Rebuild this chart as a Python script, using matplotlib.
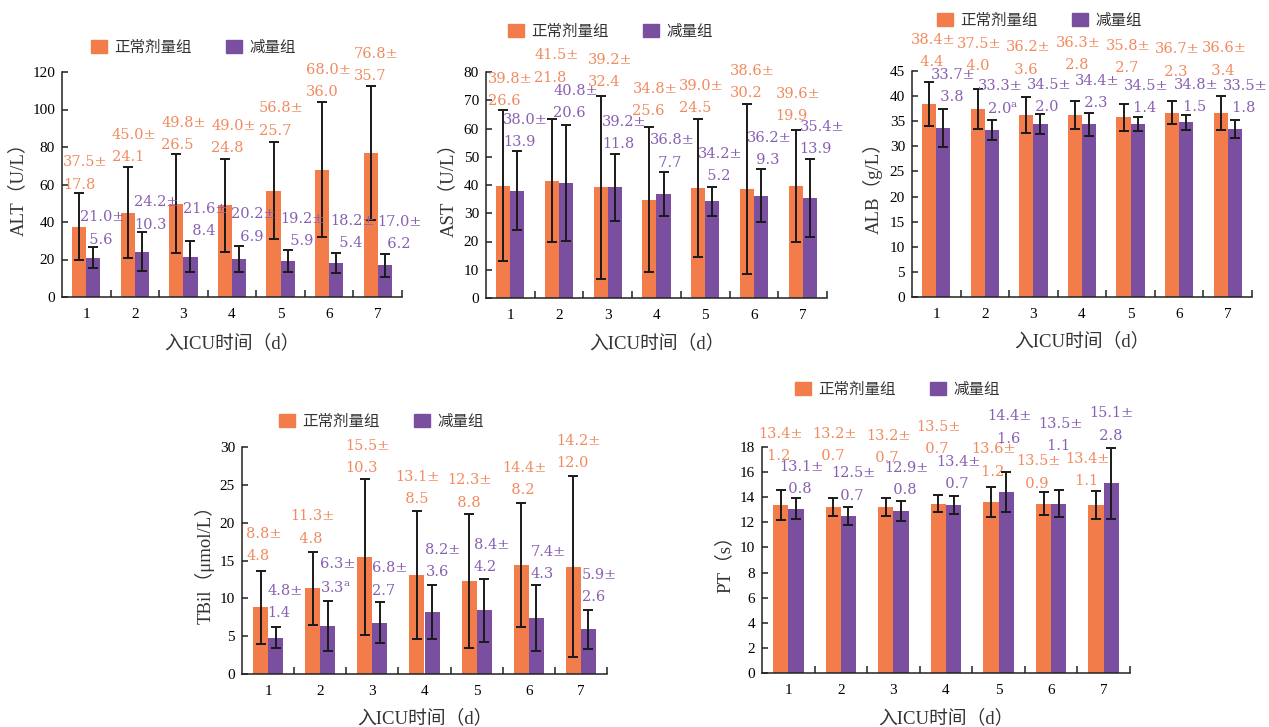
#!/usr/bin/env python3
"""Liver function / coagulation indexes by ICU day, normal vs reduced dose (5 panels)."""
import numpy as np
import matplotlib
matplotlib.use("Agg")
import matplotlib.pyplot as plt
from matplotlib.patches import Patch
from matplotlib.ticker import FixedLocator, MultipleLocator

plt.rcParams["font.family"] = ["Liberation Serif", "Noto Sans CJK SC"]
plt.rcParams["mathtext.fontset"] = "dejavuserif"

days = ["1", "2", "3", "4", "5", "6", "7"]
group_names = ["正常剂量组", "减量组"]
xlabel_text = "入ICU时间（d）"

alt_normal_mean = [37.5, 45.0, 49.8, 49.0, 56.8, 68.0, 76.8]
alt_normal_sd = [17.8, 24.1, 26.5, 24.8, 25.7, 36.0, 35.7]
alt_reduced_mean = [21.0, 24.2, 21.6, 20.2, 19.2, 18.2, 17.0]
alt_reduced_sd = [5.6, 10.3, 8.4, 6.9, 5.9, 5.4, 6.2]

ast_normal_mean = [39.8, 41.5, 39.2, 34.8, 39.0, 38.6, 39.6]
ast_normal_sd = [26.6, 21.8, 32.4, 25.6, 24.5, 30.2, 19.9]
ast_reduced_mean = [38.0, 40.8, 39.2, 36.8, 34.2, 36.2, 35.4]
ast_reduced_sd = [13.9, 20.6, 11.8, 7.7, 5.2, 9.3, 13.9]

alb_normal_mean = [38.4, 37.5, 36.2, 36.3, 35.8, 36.7, 36.6]
alb_normal_sd = [4.4, 4.0, 3.6, 2.8, 2.7, 2.3, 3.4]
alb_reduced_mean = [33.7, 33.3, 34.5, 34.4, 34.5, 34.8, 33.5]
alb_reduced_sd = [3.8, 2.0, 2.0, 2.3, 1.4, 1.5, 1.8]
alb_reduced_mark = ["", "a", "", "", "", "", ""]

tbil_normal_mean = [8.8, 11.3, 15.5, 13.1, 12.3, 14.4, 14.2]
tbil_normal_sd = [4.8, 4.8, 10.3, 8.5, 8.8, 8.2, 12.0]
tbil_reduced_mean = [4.8, 6.3, 6.8, 8.2, 8.4, 7.4, 5.9]
tbil_reduced_sd = [1.4, 3.3, 2.7, 3.6, 4.2, 4.3, 2.6]
tbil_reduced_mark = ["", "a", "", "", "", "", ""]

pt_normal_mean = [13.4, 13.2, 13.2, 13.5, 13.6, 13.5, 13.4]
pt_normal_sd = [1.2, 0.7, 0.7, 0.7, 1.2, 0.9, 1.1]
pt_reduced_mean = [13.1, 12.5, 12.9, 13.4, 14.4, 13.5, 15.1]
pt_reduced_sd = [0.8, 0.7, 0.8, 0.7, 1.6, 1.1, 2.8]

no_mark = [""] * 7

# label placement: left edge offset from category centre (px), gap above error cap (px)
alt_lab = dict(n_dx=[-23, -23, -22, -21, -22, -23, -24], n_gap=[5, 7, 5, 7, 8, 6, 6],
               r_dx=[-6, -1, 0, -1, 0, 1, 0], r_gap=[4, 4, 6, 6, 5, 6, 6])
ast_lab = dict(n_dx=[-22, -25, -20, -24, -26, -24, -27], n_gap=[6, 38, 10, 13, 7, 7, 10],
               r_dx=[-7, -6, -6, -7, -7, -7, -3], r_gap=[6, 8, 6, 6, 7, 6, 6])
alb_lab = dict(n_dx=[-25, -28, -28, -26, -25, -24, -26], n_gap=[16, 19, 24, 32, 32, 26, 22],
               r_dx=[-5, -7, -7, -7, -7, -5, -5], r_gap=[8, 6, 3, 6, 5, 4, 8])
tbil_lab = dict(n_dx=[-22, -30, -27, -29, -29, -27, -25], n_gap=[11, 10, 7, 8, 8, 9, 9],
                r_dx=[-1, 0, 0, 1, -3, 2, 1], r_gap=[10, 9, 8, 9, 8, 8, 9])
pt_lab = dict(n_dx=[-30, -29, -27, -30, -27, -35, -38], n_gap=[30, 39, 37, 42, 12, 5, 6],
              r_dx=[-9, -10, -9, -10, -11, -13, -14], r_gap=[6, 8, 7, 8, 30, 40, 9])

ORANGE = "#F27C4A"
PURPLE = "#7B4F9F"
ORANGE_TXT = "#F28A5E"
PURPLE_TXT = "#8860B2"
W, H = 1269, 727
BAR_W = 0.29
LAB_FS = 10.5
DESC = 3.4  # descent of label font in px


def fmt_label(m, s, mark):
    ms = f"{m:.1f}"
    ss = f"{s:.1f}"
    pad = "  " * max(len(ms) - len(ss), 0)
    if mark:
        ss = ss + r"$^{\mathrm{" + mark + "}}$"
    return f"{ms}±\n{pad}{ss}"


def draw_panel(fig, box, ylabel, ymax, ystep, nm, ns, rm, rs, rmark, lab,
               legend_xy, ylabel_x, xlabel_y):
    left, top, right, bottom = box
    ax = fig.add_axes([left / W, 1 - bottom / H, (right - left) / W, (bottom - top) / H])
    x = np.arange(len(days))

    ax.bar(x - BAR_W / 2, nm, BAR_W, color=ORANGE, zorder=2)
    ax.bar(x + BAR_W / 2, rm, BAR_W, color=PURPLE, zorder=2)
    ax.errorbar(x - BAR_W / 2, nm, yerr=ns, fmt="none", ecolor="#1a1a1a",
                elinewidth=1.4, capsize=3.5, capthick=1.4, zorder=3)
    ax.errorbar(x + BAR_W / 2, rm, yerr=rs, fmt="none", ecolor="#1a1a1a",
                elinewidth=1.4, capsize=3.5, capthick=1.4, zorder=3)

    for i in range(len(days)):
        ax.annotate(fmt_label(nm[i], ns[i], ""), xy=(x[i], nm[i] + ns[i]),
                    xytext=(lab["n_dx"][i], lab["n_gap"][i] - DESC),
                    textcoords="offset pixels", ha="left", va="bottom",
                    fontsize=LAB_FS, family="DejaVu Serif", color=ORANGE_TXT,
                    linespacing=1.75, zorder=4, annotation_clip=False)
        ax.annotate(fmt_label(rm[i], rs[i], rmark[i]), xy=(x[i], rm[i] + rs[i]),
                    xytext=(lab["r_dx"][i], lab["r_gap"][i] - DESC),
                    textcoords="offset pixels", ha="left", va="bottom",
                    fontsize=LAB_FS, family="DejaVu Serif", color=PURPLE_TXT,
                    linespacing=1.75, zorder=4, annotation_clip=False)

    ax.set_xlim(-0.5, len(days) - 0.5)
    ax.set_ylim(0, ymax)
    ax.set_xticks(x)
    ax.set_xticklabels(days)
    ax.xaxis.set_minor_locator(FixedLocator(np.arange(0.5, len(days), 1.0)))
    ax.yaxis.set_major_locator(MultipleLocator(ystep))
    ax.tick_params(axis="x", which="major", length=0, pad=8, labelsize=11)
    ax.tick_params(axis="x", which="minor", direction="in", length=5, width=1.1, color="#222222")
    ax.tick_params(axis="y", direction="in", length=4.5, width=1.1, color="#222222",
                   pad=5, labelsize=11)
    for side in ("top", "right"):
        ax.spines[side].set_visible(False)
    for side in ("left", "bottom"):
        ax.spines[side].set_linewidth(1.1)
        ax.spines[side].set_color("#222222")

    ax.set_ylabel(ylabel, fontsize=13.5, color="#333333")
    ax.yaxis.label.set_verticalalignment("center")
    ax.yaxis.set_label_coords((ylabel_x - left) / (right - left), 0.5)
    ax.set_xlabel(xlabel_text, fontsize=13.5, color="#333333")
    ax.xaxis.label.set_verticalalignment("center")
    ax.xaxis.set_label_coords(0.5, (bottom - xlabel_y) / (bottom - top))

    handles = [Patch(color=ORANGE), Patch(color=PURPLE)]
    ax.legend(handles, group_names, loc="center left",
              bbox_to_anchor=(legend_xy[0] / W, 1 - legend_xy[1] / H),
              bbox_transform=fig.transFigure, ncol=2, frameon=False,
              borderpad=0, borderaxespad=0, handlelength=1.0, handleheight=0.9,
              handletextpad=0.5, columnspacing=2.2,
              prop=dict(family=["Noto Sans CJK SC"], size=11.2),
              labelcolor="#333333")
    return ax


def main():
    fig = plt.figure(figsize=(W / 100, H / 100), dpi=100)
    draw_panel(fig, (62, 72, 402, 297), "ALT（U/L）", 120, 20,
               alt_normal_mean, alt_normal_sd, alt_reduced_mean, alt_reduced_sd,
               no_mark, alt_lab, (91, 47), 18.5, 343)
    draw_panel(fig, (486, 72, 827, 298), "AST（U/L）", 80, 10,
               ast_normal_mean, ast_normal_sd, ast_reduced_mean, ast_reduced_sd,
               no_mark, ast_lab, (508, 31), 448.5, 343)
    draw_panel(fig, (912, 71, 1252, 297), "ALB（g/L）", 45, 5,
               alb_normal_mean, alb_normal_sd, alb_reduced_mean, alb_reduced_sd,
               alb_reduced_mark, alb_lab, (937, 20), 872.5, 341.5)
    draw_panel(fig, (242, 447, 607, 674), "TBil（μmol/L）", 30, 5,
               tbil_normal_mean, tbil_normal_sd, tbil_reduced_mean, tbil_reduced_sd,
               tbil_reduced_mark, tbil_lab, (279, 421), 204.5, 718)
    draw_panel(fig, (762, 447, 1130, 673), "PT（s）", 18, 2,
               pt_normal_mean, pt_normal_sd, pt_reduced_mean, pt_reduced_sd,
               no_mark, pt_lab, (795, 389.5), 725, 718)
    fig.savefig("out.png", dpi=100)
    plt.close(fig)


if __name__ == "__main__":
    main()
